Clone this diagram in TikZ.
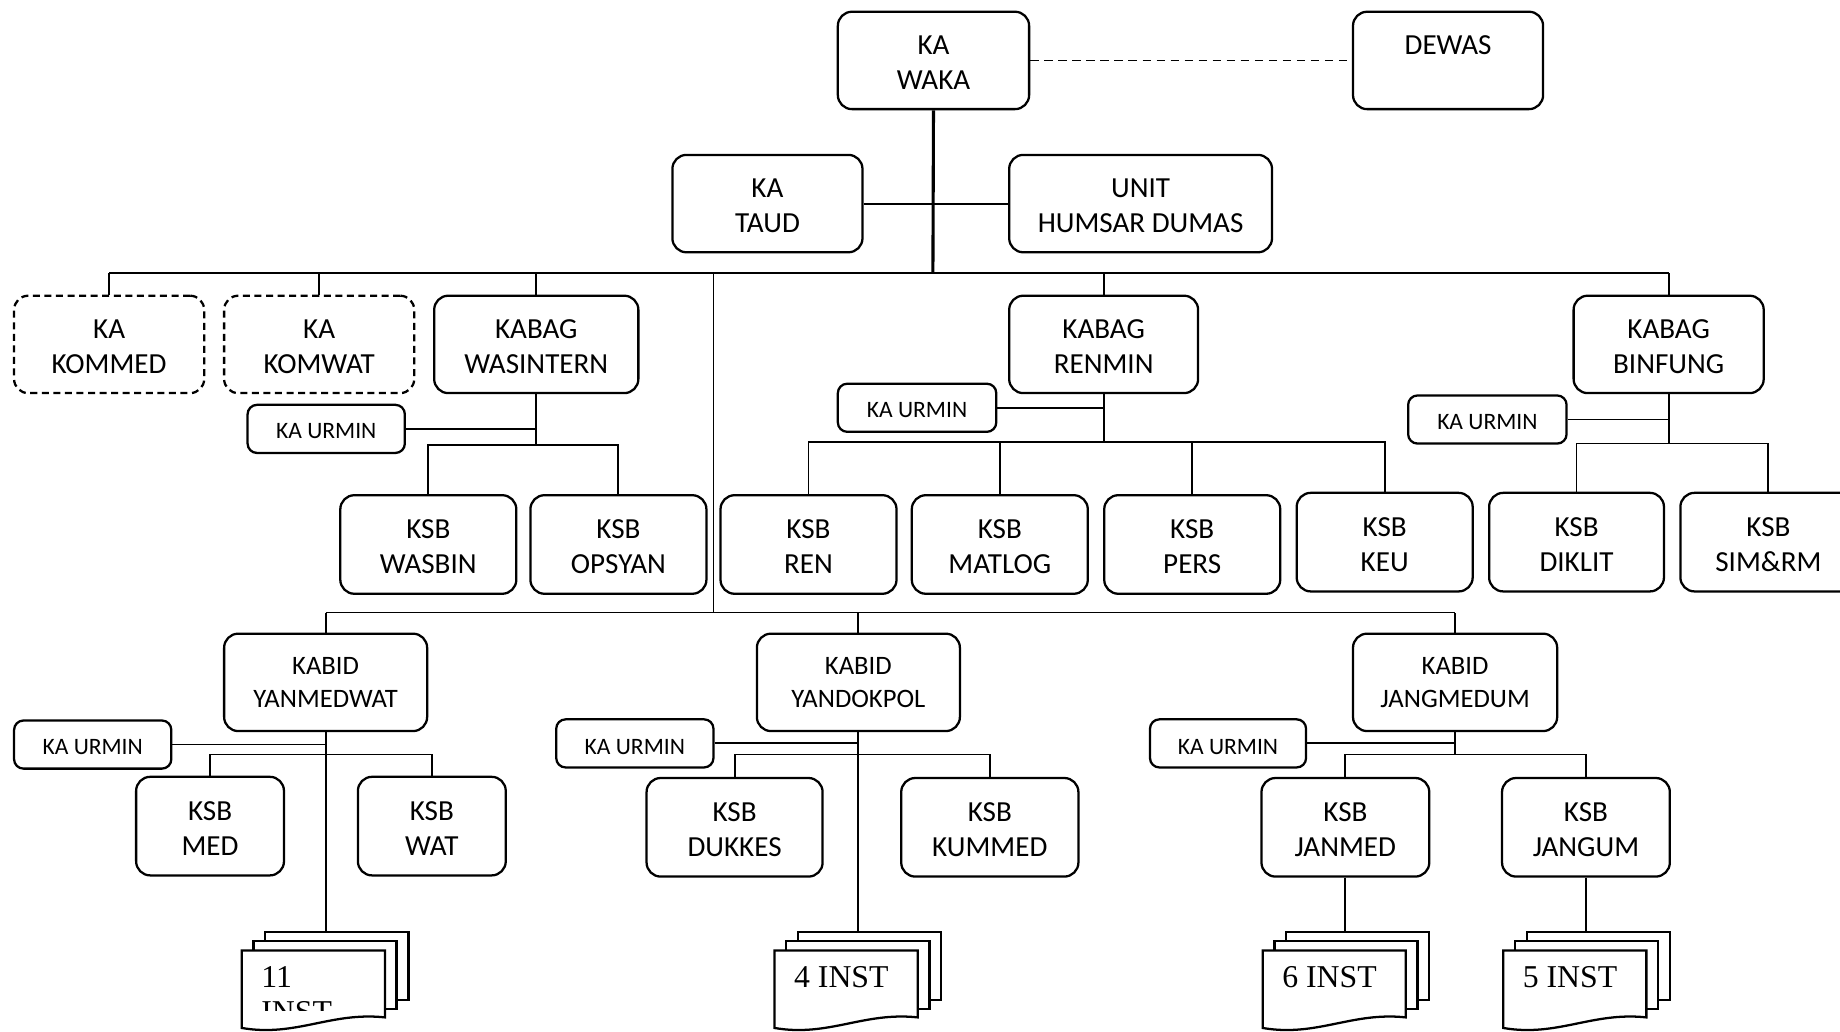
\documentclass[tikz,border=0pt]{standalone}
\usepackage{fontspec}
\setmainfont{Carlito}
\newfontfamily\timesf{Liberation Serif}
\tikzset{
  orgbox/.style={draw, rounded corners=0.12cm, line width=0.55pt, align=center, inner sep=0pt, fill=white,
    font=\fontsize{7.05pt}{8.54pt}\selectfont},
  dashbox/.style={orgbox, dash pattern=on 1.7pt off 1.1pt},
  kabidbox/.style={orgbox, font=\fontsize{6.45pt}{7.97pt}\selectfont},
  urminbox/.style={orgbox, rounded corners=0.08cm, font=\fontsize{5.7pt}{7pt}\selectfont},
  boxtext/.style={draw=none, fill=none, minimum width=0pt, minimum height=0pt},
  link/.style={line width=0.45pt},
  trunk/.style={line width=0.75pt},
  dashlink/.style={line width=0.45pt, dash pattern=on 2pt off 1.4pt},
  sheet/.style={draw, fill=white, line width=0.55pt},
  doctext/.style={font=\timesf\fontsize{7.7pt}{8.54pt}\selectfont, align=left, inner sep=0pt, anchor=north west}
}
% [text shift down], style, name, x1, y1, x2, y2, text
\newcommand\orgbx[8][2]{%
  \node[#2, minimum width={(#6-#4)*0.01cm}, minimum height={(#7-#5)*0.01cm}] (#3) at ({(#4+#6)/2},{(#5+#7)/2}) {};
  \node[#2, boxtext] (#3t) at ([yshift=-#1*0.01cm]#3.center) {#8};}
% name, centre x of middle sheet, text
\newcommand\multidoc[3]{%
  \draw[sheet] ({#2-51},794) rectangle ({#2+71},852);
  \draw[sheet] ({#2-61},802) rectangle ({#2+61},860);
  \draw[sheet] ({#2-71},810) -- ({#2+51},810) -- ({#2+51},867)
     .. controls ({#2+5},862) and ({#2-25},884) .. ({#2-71},876) -- cycle;
  \coordinate (#1) at (#2,794);
  \begin{scope}
    \clip ({#2-70},811) rectangle ({#2+50},861);
    \node[doctext] (#1t) at ({#2-55},823) {#3};
  \end{scope}
}
\begin{document}
\begin{tikzpicture}[x=0.01cm, y=-0.01cm]
\useasboundingbox (0,0) rectangle (1568,879);
\clip (0,0) rectangle (1568,879);

% top level
\orgbx{orgbox}{waka}{714}{10}{877}{93}{KA\\WAKA}
\orgbx{orgbox}{dewas}{1153}{10}{1315}{93}{DEWAS\\\phantom{X}}
\orgbx{orgbox}{taud}{573}{132}{735}{215}{KA\\TAUD}
\orgbx{orgbox}{humsar}{860}{132}{1084}{215}{UNIT\\HUMSAR DUMAS}

% second level
\orgbx{dashbox}{kommed}{12}{252}{174}{335}{KA\\KOMMED}
\orgbx{dashbox}{komwat}{191}{252}{353}{335}{KA\\KOMWAT}
\orgbx{orgbox}{wasintern}{370}{252}{544}{335}{KABAG\\WASINTERN}
\orgbx{orgbox}{renmin}{860}{252}{1021}{335}{KABAG\\RENMIN}
\orgbx{orgbox}{binfung}{1341}{252}{1503}{335}{KABAG\\BINFUNG}

% urmin boxes
\orgbx{urminbox}{urminA}{211}{345}{345}{386}{KA URMIN}
\orgbx{urminbox}{urminB}{714}{327}{849}{368}{KA URMIN}
\orgbx{urminbox}{urminC}{1200}{337}{1335}{378}{KA URMIN}
\orgbx{urminbox}{urminD}{12}{614}{146}{655}{KA URMIN}
\orgbx[3]{urminbox}{urminE}{474}{613}{608}{654}{KA URMIN}
\orgbx[3]{urminbox}{urminF}{980}{613}{1113}{654}{KA URMIN}

% KSB row 1
\orgbx{orgbox}{wasbin}{290}{422}{440}{506}{KSB\\WASBIN}
\orgbx{orgbox}{opsyan}{452}{422}{602}{506}{KSB\\OPSYAN}
\orgbx{orgbox}{ren}{614}{422}{764}{506}{KSB\\REN}
\orgbx{orgbox}{matlog}{777}{422}{927}{506}{KSB\\MATLOG}
\orgbx{orgbox}{pers}{941}{422}{1091}{506}{KSB\\PERS}
\orgbx{orgbox}{keu}{1105}{420}{1255}{504}{KSB\\KEU}
\orgbx{orgbox}{diklit}{1269}{420}{1418}{504}{KSB\\DIKLIT}
\orgbx{orgbox}{simrm}{1432}{420}{1582}{504}{KSB\\SIM\&RM}

% KABID row
\orgbx[0]{kabidbox}{yanmed}{191}{540}{364}{623}{KABID\\YANMEDWAT}
\orgbx[0]{kabidbox}{yandok}{645}{540}{818}{623}{KABID\\YANDOKPOL}
\orgbx[0]{kabidbox}{jangmed}{1153}{540}{1327}{623}{KABID\\JANGMEDUM}

% KSB row 2
\orgbx{orgbox}{med}{116}{662}{242}{746}{KSB\\MED}
\orgbx{orgbox}{wat}{305}{662}{431}{746}{KSB\\WAT}
\orgbx{orgbox}{dukkes}{551}{663}{701}{747}{KSB\\DUKKES}
\orgbx{orgbox}{kummed}{768}{663}{919}{747}{KSB\\KUMMED}
\orgbx{orgbox}{janmed}{1075}{663}{1218}{747}{KSB\\JANMED}
\orgbx{orgbox}{jangum}{1280}{663}{1423}{747}{KSB\\JANGUM}

% institution stacks
\multidoc{docA}{277}{11\\INST}
\multidoc{docB}{731}{4 INST}
\multidoc{docC}{1147}{6 INST}
\multidoc{docD}{1352}{5 INST}

% bus coordinates
\coordinate (bus0) at (795,233);
\coordinate (split1) at (608,233);
\coordinate (split2) at (608,522);
\coordinate (wb) at (457,379);
\coordinate (rb) at (940.5,377);
\coordinate (bb) at (1422,378);
\coordinate (yb) at (277.5,643);
\coordinate (db) at (731.5,643);
\coordinate (jb) at (1240,643);

% connectors: top
\draw[dashlink] (waka.east) -- (dewas.west);
\draw[trunk] (waka.south) -- (bus0);
\draw[link] (taud.east) -- (humsar.west);
\draw[link] (kommed.north |- bus0) -- (binfung.north |- bus0);
\foreach \n in {kommed,komwat,wasintern,renmin,binfung}
  \draw[link] (\n.north) -- (\n.north |- bus0);
\draw[link] (split1) -- (split2);
\draw[link] (yanmed.north |- split2) -- (jangmed.north |- split2);
\foreach \n in {yanmed,yandok,jangmed}
  \draw[link] (\n.north) -- (\n.north |- split2);

% WASINTERN
\draw[link] (wasintern.south) -- (wb);
\draw[link] (urminA.east) -- (urminA.east -| wasintern.south);
\draw[link] (wasbin.north) |- (wb) -| (opsyan.north);

% RENMIN
\draw[link] (renmin.south) -- (rb);
\draw[link] (urminB.east) -- (urminB.east -| renmin.south);
\draw[link] (ren.north) |- (rb) -| (keu.north);
\draw[link] (matlog.north) -- (matlog.north |- rb);
\draw[link] (pers.north) -- (pers.north |- rb);

% BINFUNG
\draw[link] (binfung.south) -- (bb);
\draw[link] (urminC.east) -- (urminC.east -| binfung.south);
\draw[link] (diklit.north) |- (bb) -| (simrm.north);

% YANMEDWAT
\draw[link] (yanmed.south) -- (yanmed.south |- docA);
\draw[link] (urminD.east) -- (urminD.east -| yanmed.south);
\draw[link] (med.north) |- (yb) -| (wat.north);

% YANDOKPOL
\draw[link] (yandok.south) -- (yandok.south |- docB);
\draw[link] (urminE.east) -- (urminE.east -| yandok.south);
\draw[link] (dukkes.north) |- (db) -| (kummed.north);

% JANGMEDUM
\draw[link] (jangmed.south) -- (jb);
\draw[link] (urminF.east) -- (urminF.east -| jangmed.south);
\draw[link] (janmed.north) |- (jb) -| (jangum.north);
\draw[link] (janmed.south) -- (janmed.south |- docC);
\draw[link] (jangum.south) -- (jangum.south |- docD);
\end{tikzpicture}
\end{document}
